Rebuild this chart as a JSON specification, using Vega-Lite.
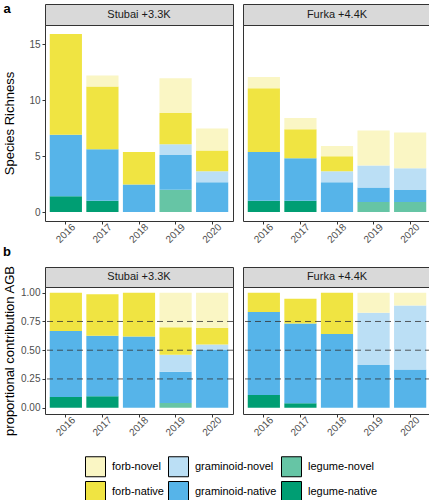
{
"$schema": "https://vega.github.io/schema/vega-lite/v6.json",
"padding": {"left": 3, "top": 2, "right": 0, "bottom": 0},
"datasets": {
"rich": [
{"site":"Stubai","year":"2016","group":"legume-native","value":1.4},
{"site":"Stubai","year":"2016","group":"graminoid-native","value":5.5},
{"site":"Stubai","year":"2016","group":"forb-native","value":9.0},
{"site":"Stubai","year":"2017","group":"legume-native","value":1.0},
{"site":"Stubai","year":"2017","group":"graminoid-native","value":4.6},
{"site":"Stubai","year":"2017","group":"forb-native","value":5.6},
{"site":"Stubai","year":"2017","group":"forb-novel","value":1.0},
{"site":"Stubai","year":"2018","group":"graminoid-native","value":2.45},
{"site":"Stubai","year":"2018","group":"forb-native","value":2.9},
{"site":"Stubai","year":"2019","group":"legume-novel","value":2.0},
{"site":"Stubai","year":"2019","group":"graminoid-native","value":3.1},
{"site":"Stubai","year":"2019","group":"graminoid-novel","value":0.95},
{"site":"Stubai","year":"2019","group":"forb-native","value":2.8},
{"site":"Stubai","year":"2019","group":"forb-novel","value":3.1},
{"site":"Stubai","year":"2020","group":"graminoid-native","value":2.65},
{"site":"Stubai","year":"2020","group":"graminoid-novel","value":1.0},
{"site":"Stubai","year":"2020","group":"forb-native","value":1.85},
{"site":"Stubai","year":"2020","group":"forb-novel","value":1.97},
{"site":"Furka","year":"2016","group":"legume-native","value":1.0},
{"site":"Furka","year":"2016","group":"graminoid-native","value":4.35},
{"site":"Furka","year":"2016","group":"forb-native","value":5.7},
{"site":"Furka","year":"2016","group":"forb-novel","value":1.0},
{"site":"Furka","year":"2017","group":"legume-native","value":1.0},
{"site":"Furka","year":"2017","group":"graminoid-native","value":3.8},
{"site":"Furka","year":"2017","group":"forb-native","value":2.6},
{"site":"Furka","year":"2017","group":"forb-novel","value":1.0},
{"site":"Furka","year":"2018","group":"graminoid-native","value":2.65},
{"site":"Furka","year":"2018","group":"graminoid-novel","value":1.0},
{"site":"Furka","year":"2018","group":"forb-native","value":1.33},
{"site":"Furka","year":"2018","group":"forb-novel","value":0.92},
{"site":"Furka","year":"2019","group":"legume-novel","value":0.9},
{"site":"Furka","year":"2019","group":"graminoid-native","value":1.28},
{"site":"Furka","year":"2019","group":"graminoid-novel","value":1.97},
{"site":"Furka","year":"2019","group":"forb-novel","value":3.13},
{"site":"Furka","year":"2020","group":"legume-novel","value":0.9},
{"site":"Furka","year":"2020","group":"graminoid-native","value":1.07},
{"site":"Furka","year":"2020","group":"graminoid-novel","value":1.94},
{"site":"Furka","year":"2020","group":"forb-novel","value":3.19}
],
"prop": [
{"site":"Stubai","year":"2016","group":"legume-native","value":0.093},
{"site":"Stubai","year":"2016","group":"graminoid-native","value":0.574},
{"site":"Stubai","year":"2016","group":"forb-native","value":0.333},
{"site":"Stubai","year":"2017","group":"legume-native","value":0.099},
{"site":"Stubai","year":"2017","group":"graminoid-native","value":0.527},
{"site":"Stubai","year":"2017","group":"forb-native","value":0.36},
{"site":"Stubai","year":"2018","group":"graminoid-native","value":0.62},
{"site":"Stubai","year":"2018","group":"forb-native","value":0.38},
{"site":"Stubai","year":"2019","group":"legume-novel","value":0.04},
{"site":"Stubai","year":"2019","group":"graminoid-native","value":0.273},
{"site":"Stubai","year":"2019","group":"graminoid-novel","value":0.147},
{"site":"Stubai","year":"2019","group":"forb-native","value":0.24},
{"site":"Stubai","year":"2019","group":"forb-novel","value":0.30},
{"site":"Stubai","year":"2020","group":"graminoid-native","value":0.507},
{"site":"Stubai","year":"2020","group":"graminoid-novel","value":0.043},
{"site":"Stubai","year":"2020","group":"forb-native","value":0.146},
{"site":"Stubai","year":"2020","group":"forb-novel","value":0.304},
{"site":"Furka","year":"2016","group":"legume-native","value":0.11},
{"site":"Furka","year":"2016","group":"graminoid-native","value":0.722},
{"site":"Furka","year":"2016","group":"forb-native","value":0.168},
{"site":"Furka","year":"2017","group":"legume-native","value":0.038},
{"site":"Furka","year":"2017","group":"graminoid-native","value":0.695},
{"site":"Furka","year":"2017","group":"forb-native","value":0.215},
{"site":"Furka","year":"2018","group":"graminoid-native","value":0.64},
{"site":"Furka","year":"2018","group":"forb-native","value":0.36},
{"site":"Furka","year":"2019","group":"graminoid-native","value":0.371},
{"site":"Furka","year":"2019","group":"graminoid-novel","value":0.455},
{"site":"Furka","year":"2019","group":"forb-novel","value":0.174},
{"site":"Furka","year":"2020","group":"graminoid-native","value":0.333},
{"site":"Furka","year":"2020","group":"graminoid-novel","value":0.557},
{"site":"Furka","year":"2020","group":"forb-novel","value":0.11}
],
"hl": [{"h":0.25},{"h":0.5},{"h":0.75}]
},
"spacing": 0,
"vconcat": [
{
"title": {"text": "a", "offset": -12},
"spacing": 8,
"hconcat": [
{"spacing": 0, "bounds": "flush", "vconcat": [
{"width": 188, "height": 21, "data": {"values": [{"lab": "Stubai +3.3K"}]}, "mark": {"type": "text", "fontSize": 11, "color": "#1a1a1a"}, "encoding": {"text": {"field": "lab"}}, "view": {"fill": "#d9d9d9", "stroke": "#333333"}},
{"width": 188, "height": 196, "data": {"name": "rich"}, "transform": [{"filter": "datum.site == 'Stubai'"}, {"calculate": "indexof(['legume-native','legume-novel','graminoid-native','graminoid-novel','forb-native','forb-novel'], datum.group)", "as": "rank"}], "mark": {"type": "bar"},
 "encoding": {
  "x": {"field": "year", "type": "ordinal", "scale": {"paddingInner": 0.12, "paddingOuter": 0.13}, "axis": {"title": null, "labelAngle": -45, "labelAlign": "center", "labelBaseline": "middle", "labelPadding": 9}},
  "y": {"field": "value", "type": "quantitative", "stack": "zero", "scale": {"domain": [-0.8, 16.7], "nice": false, "zero": false}, "axis": {"title": "Species Richness", "values": [0, 5, 10, 15], "titlePadding": 12}},
  "color": {"field": "group", "type": "nominal", "scale": {"domain": ["forb-novel","graminoid-novel","legume-novel","forb-native","graminoid-native","legume-native"], "range": ["#faf6c4","#bbdff5","#66c5a5","#f0e442","#56b4e9","#009e73"]}, "legend": {"title": null}},
  "order": {"field": "rank", "type": "quantitative", "sort": "ascending"}
 }}
]},
{"spacing": 0, "bounds": "flush", "vconcat": [
{"width": 188, "height": 21, "data": {"values": [{"lab": "Furka +4.4K"}]}, "mark": {"type": "text", "fontSize": 11, "color": "#1a1a1a"}, "encoding": {"text": {"field": "lab"}}, "view": {"fill": "#d9d9d9", "stroke": "#333333"}},
{"width": 188, "height": 196, "data": {"name": "rich"}, "transform": [{"filter": "datum.site == 'Furka'"}, {"calculate": "indexof(['legume-native','legume-novel','graminoid-native','graminoid-novel','forb-native','forb-novel'], datum.group)", "as": "rank"}], "mark": {"type": "bar"},
 "encoding": {
  "x": {"field": "year", "type": "ordinal", "scale": {"paddingInner": 0.12, "paddingOuter": 0.13}, "axis": {"title": null, "labelAngle": -45, "labelAlign": "center", "labelBaseline": "middle", "labelPadding": 9}},
  "y": {"field": "value", "type": "quantitative", "stack": "zero", "scale": {"domain": [-0.8, 16.7], "nice": false, "zero": false}, "axis": null},
  "color": {"field": "group", "type": "nominal", "scale": {"domain": ["forb-novel","graminoid-novel","legume-novel","forb-native","graminoid-native","legume-native"], "range": ["#faf6c4","#bbdff5","#66c5a5","#f0e442","#56b4e9","#009e73"]}, "legend": {"title": null}},
  "order": {"field": "rank", "type": "quantitative", "sort": "ascending"}
 }}
]}
]
},
{
"title": {"text": "b", "offset": 6},
"spacing": 8,
"hconcat": [
{"spacing": 0, "bounds": "flush", "vconcat": [
{"width": 188, "height": 20, "data": {"values": [{"lab": "Stubai +3.3K"}]}, "mark": {"type": "text", "fontSize": 11, "color": "#1a1a1a"}, "encoding": {"text": {"field": "lab"}}, "view": {"fill": "#d9d9d9", "stroke": "#333333"}},
{"width": 188, "height": 127, "layer": [
 {"data": {"name": "prop"}, "transform": [{"filter": "datum.site == 'Stubai'"}, {"calculate": "indexof(['legume-native','legume-novel','graminoid-native','graminoid-novel','forb-native','forb-novel'], datum.group)", "as": "rank"}], "mark": {"type": "bar"},
  "encoding": {
   "x": {"field": "year", "type": "ordinal", "scale": {"paddingInner": 0.12, "paddingOuter": 0.13}, "axis": {"title": null, "labelAngle": -45, "labelAlign": "center", "labelBaseline": "middle", "labelPadding": 9}},
   "y": {"field": "value", "type": "quantitative", "stack": "zero", "scale": {"domain": [-0.055, 1.05], "nice": false, "zero": false}, "axis": {"title": "proportional contribution AGB", "values": [0, 0.25, 0.5, 0.75, 1], "format": ".2f"}},
   "color": {"field": "group", "type": "nominal", "scale": {"domain": ["forb-novel","graminoid-novel","legume-novel","forb-native","graminoid-native","legume-native"], "range": ["#faf6c4","#bbdff5","#66c5a5","#f0e442","#56b4e9","#009e73"]}, "legend": {"title": null}},
   "order": {"field": "rank", "type": "quantitative", "sort": "ascending"}
  }},
 {"data": {"name": "hl"}, "mark": {"type": "rule", "strokeDash": [6, 4], "color": "#333333", "strokeWidth": 0.8},
  "encoding": {"y": {"field": "h", "type": "quantitative", "axis": {"title": "proportional contribution AGB", "values": [0, 0.25, 0.5, 0.75, 1], "format": ".2f"}}}}
]}
]},
{"spacing": 0, "bounds": "flush", "vconcat": [
{"width": 188, "height": 20, "data": {"values": [{"lab": "Furka +4.4K"}]}, "mark": {"type": "text", "fontSize": 11, "color": "#1a1a1a"}, "encoding": {"text": {"field": "lab"}}, "view": {"fill": "#d9d9d9", "stroke": "#333333"}},
{"width": 188, "height": 127, "layer": [
 {"data": {"name": "prop"}, "transform": [{"filter": "datum.site == 'Furka'"}, {"calculate": "indexof(['legume-native','legume-novel','graminoid-native','graminoid-novel','forb-native','forb-novel'], datum.group)", "as": "rank"}], "mark": {"type": "bar"},
  "encoding": {
   "x": {"field": "year", "type": "ordinal", "scale": {"paddingInner": 0.12, "paddingOuter": 0.13}, "axis": {"title": null, "labelAngle": -45, "labelAlign": "center", "labelBaseline": "middle", "labelPadding": 9}},
   "y": {"field": "value", "type": "quantitative", "stack": "zero", "scale": {"domain": [-0.055, 1.05], "nice": false, "zero": false}, "axis": null},
   "color": {"field": "group", "type": "nominal", "scale": {"domain": ["forb-novel","graminoid-novel","legume-novel","forb-native","graminoid-native","legume-native"], "range": ["#faf6c4","#bbdff5","#66c5a5","#f0e442","#56b4e9","#009e73"]}, "legend": {"title": null}},
   "order": {"field": "rank", "type": "quantitative", "sort": "ascending"}
  }},
 {"data": {"name": "hl"}, "mark": {"type": "rule", "strokeDash": [6, 4], "color": "#333333", "strokeWidth": 0.8},
  "encoding": {"y": {"field": "h", "type": "quantitative", "axis": null}}}
]}
]}
]
}
],
"resolve": {"scale": {"color": "shared"}, "legend": {"color": "shared"}},
"config": {
 "font": "Liberation Sans",
 "view": {"stroke": "#333333", "strokeWidth": 1},
 "axis": {"grid": false, "domain": false, "tickColor": "#333333", "tickSize": 3, "labelFontSize": 10, "labelColor": "#4d4d4d", "labelPadding": 2, "titleFontSize": 13, "titleFontWeight": "normal", "titleColor": "#000000", "titlePadding": 4},
 "title": {"fontSize": 13, "fontWeight": "bold", "anchor": "start", "color": "#000000", "font": "Liberation Sans"},
 "legend": {"orient": "none", "legendX": 40, "legendY": 452, "direction": "horizontal", "columns": 3, "symbolType": "square", "symbolSize": 400, "symbolStrokeColor": "#000000", "symbolStrokeWidth": 1, "symbolOpacity": 1, "labelFontSize": 11, "labelColor": "#000000", "rowPadding": 0, "columnPadding": 2, "labelOffset": 6, "labelLimit": 200}
}
}
